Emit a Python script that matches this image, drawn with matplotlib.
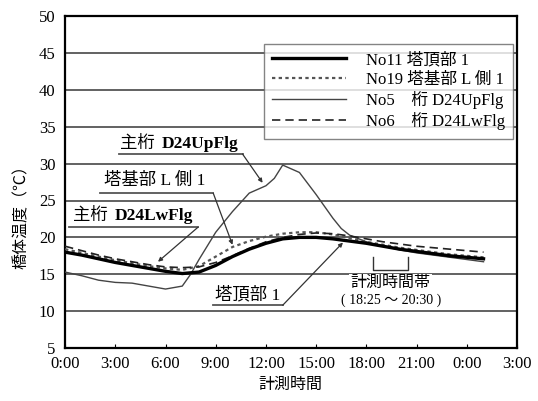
import matplotlib
matplotlib.use('Agg')
import matplotlib.pyplot as plt
import numpy as np

plt.rcParams['font.family'] = ['Liberation Serif', 'Noto Sans CJK JP']

# hours from 0:00 of the measurement day
hours = [0, 1, 2, 3, 4, 5, 6, 7, 8, 9, 10, 11, 12, 13, 14, 15, 16, 17, 18,
         19, 20, 21, 22, 23, 24, 25]
no11_tower_top = [18.0, 17.6, 17.1, 16.6, 16.2, 15.8, 15.4, 15.1, 15.3, 16.2,
                  17.4, 18.4, 19.2, 19.8, 20.0, 20.0, 19.8, 19.5, 19.2, 18.8,
                  18.4, 18.1, 17.8, 17.5, 17.3, 17.1]
no19_tower_base = [18.4, 17.9, 17.4, 16.9, 16.5, 16.1, 15.8, 15.6, 16.1, 17.4,
                   18.7, 19.5, 20.1, 20.5, 20.7, 20.7, 20.4, 19.9, 19.4, 19.0,
                   18.6, 18.3, 18.0, 17.7, 17.5, 17.3]
no6_lwflg = [18.8, 18.2, 17.6, 17.1, 16.7, 16.3, 16.0, 15.9, 16.0, 16.6,
             17.5, 18.5, 19.4, 20.0, 20.4, 20.6, 20.5, 20.2, 19.8, 19.4,
             19.1, 18.8, 18.6, 18.4, 18.2, 18.0]

hours_up = [0, 1, 2, 3, 4, 5, 6, 7, 7.5, 8, 9, 10, 11, 12, 12.5, 13, 14, 15,
            16, 16.5, 17, 18, 19, 20, 21, 22, 23, 24, 25]
no5_upflg = [15.3, 14.8, 14.2, 13.9, 13.8, 13.4, 13.0, 13.4, 15.0, 17.0,
             20.7, 23.5, 26.0, 27.0, 28.0, 29.8, 28.8, 25.8, 22.6, 21.2,
             20.3, 19.4, 18.8, 18.3, 17.9, 17.6, 17.3, 17.0, 16.7]

xticks = np.arange(0, 28, 3)
xticklabels = ['0:00', '3:00', '6:00', '9:00', '12:00', '15:00', '18:00',
               '21:00', '0:00', '3:00']
yticks = np.arange(5, 51, 5)

fig = plt.figure(figsize=(5.38, 4.01), dpi=100)
ax = fig.add_axes([0.121, 0.132, 0.840, 0.828])

for t in yticks[1:-1]:
    ax.axhline(t, color='#555555', lw=1.3, zorder=1)

ax.plot(hours, no11_tower_top, color='black', lw=2.4, label='No11 塔頂部 1', zorder=4)
ax.plot(hours, no19_tower_base, color='#555555', lw=1.6, ls=(0, (1.5, 1.5)),
        label='No19 塔基部 L 側 1', zorder=3)
ax.plot(hours_up, no5_upflg, color='#444444', lw=1.0, label='No5\u3000桁 D24UpFlg', zorder=3)
ax.plot(hours, no6_lwflg, color='#222222', lw=1.2, ls=(0, (5, 3)),
        label='No6\u3000桁 D24LwFlg', zorder=3)

ax.set_xlim(0, 27)
ax.set_ylim(5, 50)
ax.set_xticks(xticks)
ax.set_xticklabels(xticklabels)
ax.set_yticks(yticks)
ax.tick_params(axis='x', direction='in', length=3, labelsize=12, pad=6)
ax.tick_params(axis='y', length=0, labelsize=12, pad=7)
for s in ax.spines.values():
    s.set_linewidth(1.6)

leg = ax.legend(loc='upper left', bbox_to_anchor=(0.44, 0.916), fontsize=12,
                frameon=True, fancybox=False, edgecolor='#666666', handlelength=4.4,
                labelspacing=0.2, borderpad=0.5, handletextpad=1.2, borderaxespad=0)
leg.get_frame().set_linewidth(1.0)
leg.set_zorder(5)

arrow = dict(arrowstyle='-|>', color='#333333', lw=0.9, mutation_scale=6,
             shrinkA=0, shrinkB=0)

def label_with_leader(parts, underline, target):
    for x, y, s, w in parts:
        ax.text(x, y, s, fontsize=12.5, fontweight=w, va='center', ha='left', zorder=6)
    (x0, x1, yu) = underline
    ax.plot([x0, x1], [yu, yu], color='#555555', lw=1.3, zorder=6)
    ax.annotate('', xy=target, xytext=(x1, yu), arrowprops=arrow, zorder=6)

label_with_leader([(3.3, 32.7, '主桁', 'normal'), (5.75, 32.7, 'D24UpFlg', 'bold')],
                  (3.2, 10.6, 31.3), (11.8, 27.4))
label_with_leader([(2.3, 27.6, '塔基部 L 側 1', 'normal')],
                  (2.1, 8.85, 26.0), (10.0, 19.0))
label_with_leader([(0.5, 22.9, '主桁', 'normal'), (2.95, 22.9, 'D24LwFlg', 'bold')],
                  (0.25, 7.95, 21.4), (5.55, 16.7))
label_with_leader([(8.95, 12.2, '塔頂部 1', 'normal')],
                  (8.85, 13.0, 10.8), (16.6, 19.3))

# measurement window 18:25 - 20:30
t0, t1 = 18 + 25 / 60, 20.5
ax.plot([t0, t0, t1, t1], [17.3, 15.6, 15.6, 17.3], color='#333333', lw=1.0, zorder=6)
ax.text((t0 + t1) / 2, 13.8, '計測時間帯', fontsize=11.5, ha='center', va='center',
        zorder=6, bbox=dict(facecolor='white', edgecolor='none', pad=1))
ax.text((t0 + t1) / 2, 11.5, '( 18:25 ～ 20:30 )', fontsize=10, ha='center',
        va='center', zorder=6)

fig.text(0.04, 0.47, '橋体温度（℃）', rotation=90, fontsize=11.5, ha='center', va='center')
fig.text(0.54, 0.04, '計測時間', fontsize=11.5, ha='center', va='center')

fig.savefig('out.png', dpi=100)
